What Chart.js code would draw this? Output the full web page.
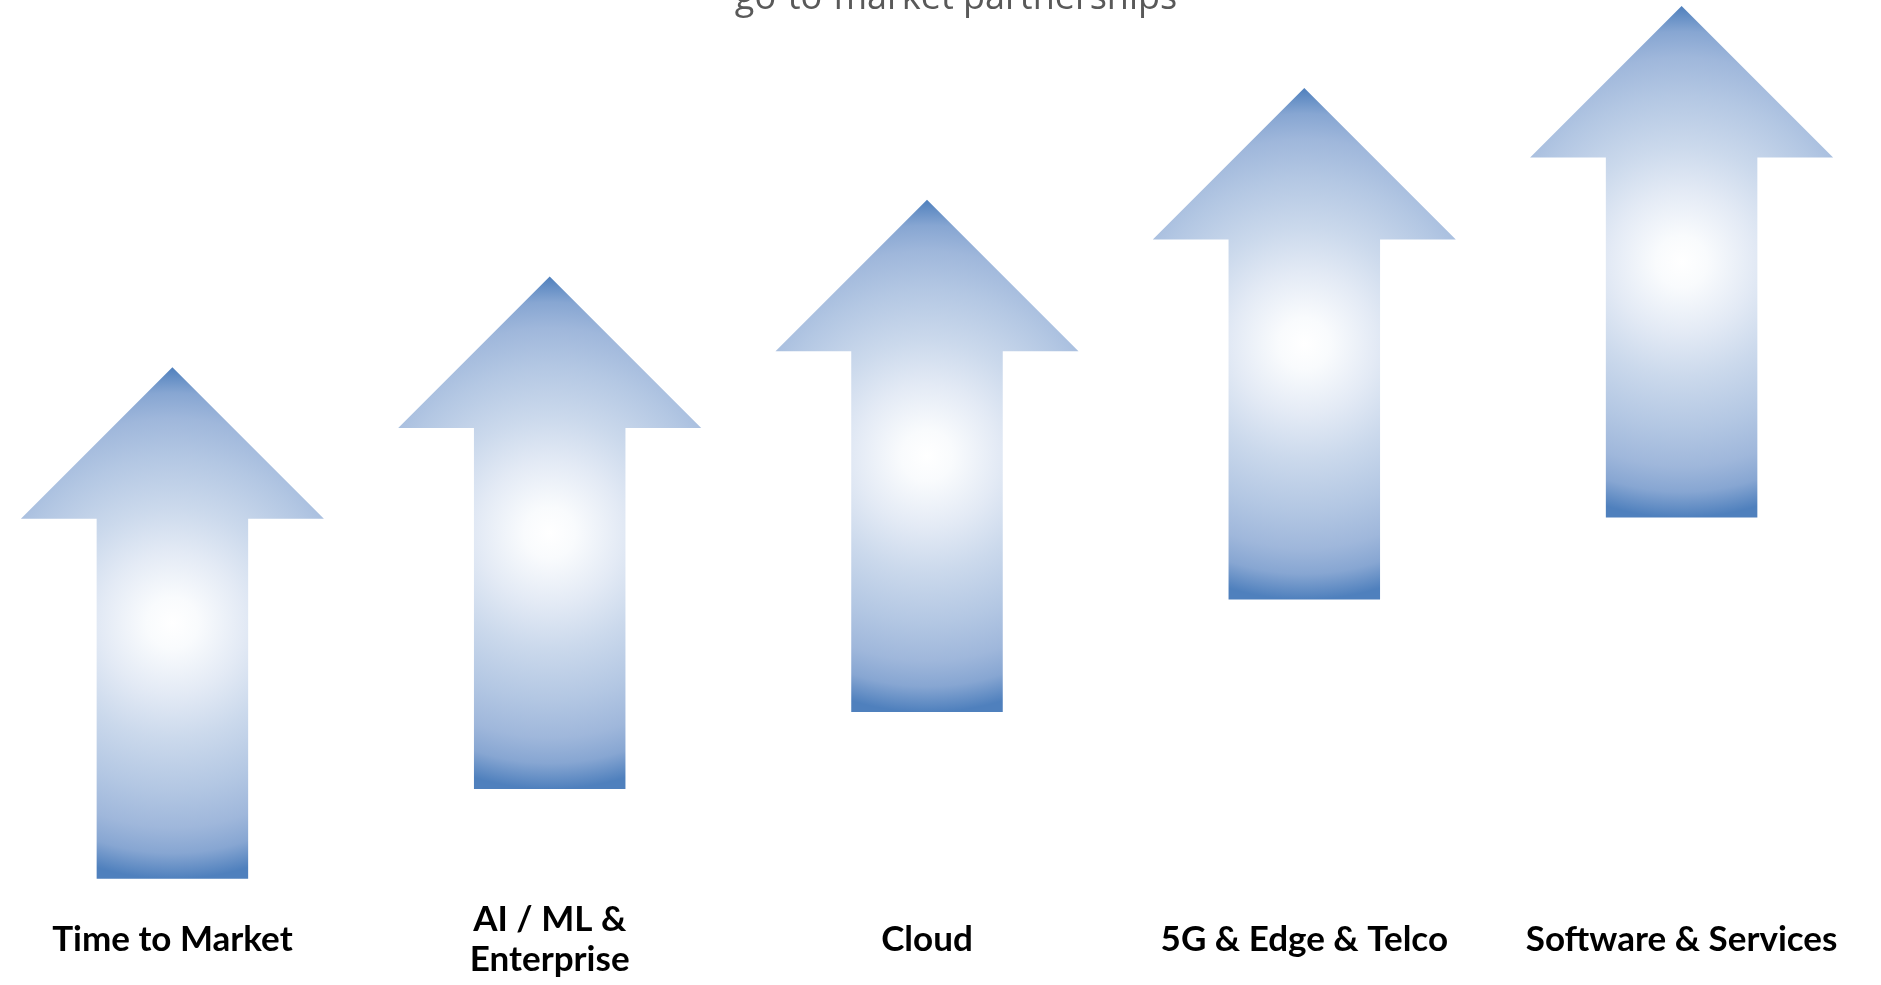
<!DOCTYPE html>
<html>
<head>
<meta charset="utf-8">
<title>go-to-market partnerships</title>
<script src="https://cdn.jsdelivr.net/npm/chart.js@4.4.1/dist/chart.umd.min.js"></script>
<style>
  html, body { margin: 0; padding: 0; background: #ffffff; overflow: hidden; }
  #wrap { position: relative; width: 1881px; height: 1040px; }
</style>
</head>
<body>
<div id="wrap"><canvas id="chart"></canvas></div>
<script>
// Focus areas, left to right
const categories = [
  'Time to Market',
  ['AI / ML &', 'Enterprise'],
  'Cloud',
  '5G & Edge & Telco',
  'Software & Services'
];
// Where each growth arrow starts and where its tip ends (0-100 scale)
const arrowStart = [0, 10.3, 19.1, 32.0, 41.4];
const arrowEnd = [58.6, 69.0, 77.8, 90.6, 100];
const titleText = 'go-to-market partnerships';

// Floating bars: [start, end] per category
const barData = arrowStart.map((s, i) => [s, arrowEnd[i]]);

// Paints every bar as an upward arrow with a radial white-to-blue fill
const arrowPlugin = {
  id: 'arrowBars',
  afterDatasetsDraw(chart) {
    const ctx = chart.ctx;
    chart.getDatasetMeta(0).data.forEach(bar => {
      const p = bar.getProps(['x', 'y', 'base', 'width'], true);
      const top = Math.min(p.y, p.base);
      const bottom = Math.max(p.y, p.base);
      const headHalf = p.width / 2;
      const shaftHalf = p.width / 4;
      const headH = p.width / 2;
      const cy = (top + bottom) / 2;
      const r = (bottom - top) / 2;
      const g = ctx.createRadialGradient(p.x, cy, 0, p.x, cy, r);
      g.addColorStop(0, '#ffffff');
      g.addColorStop(0.1, '#f9fbfd');
      g.addColorStop(0.28, '#e3eaf5');
      g.addColorStop(0.45, '#cbd9ec');
      g.addColorStop(0.65, '#b3c7e3');
      g.addColorStop(0.8, '#9fb7db');
      g.addColorStop(0.9, '#87a6d2');
      g.addColorStop(1, '#4f80bd');
      ctx.save();
      ctx.beginPath();
      ctx.moveTo(p.x, top);
      ctx.lineTo(p.x + headHalf, top + headH);
      ctx.lineTo(p.x + shaftHalf, top + headH);
      ctx.lineTo(p.x + shaftHalf, bottom);
      ctx.lineTo(p.x - shaftHalf, bottom);
      ctx.lineTo(p.x - shaftHalf, top + headH);
      ctx.lineTo(p.x - headHalf, top + headH);
      ctx.closePath();
      ctx.fillStyle = g;
      ctx.fill();
      ctx.restore();
    });
  }
};

// Heading line along the top edge
const headingPlugin = {
  id: 'heading',
  afterDraw(chart) {
    const ctx = chart.ctx;
    ctx.save();
    ctx.font = '36px "Open Sans"';
    ctx.fillStyle = '#595959';
    ctx.textAlign = 'center';
    ctx.textBaseline = 'alphabetic';
    ctx.fillText(titleText, 956, 9);
    ctx.restore();
  }
};

new Chart(document.getElementById('chart'), {
  type: 'bar',
  data: {
    labels: categories,
    datasets: [{
      data: barData,
      backgroundColor: 'rgba(0,0,0,0)',
      borderWidth: 0,
      barThickness: 303,
      clip: false
    }]
  },
  options: {
    responsive: true,
    maintainAspectRatio: false,
    animation: false,
    devicePixelRatio: 1,
    layout: { padding: { top: 6, left: 172.4, right: 199.4, bottom: 0 } },
    plugins: {
      legend: { display: false },
      title: { display: false },
      tooltip: { enabled: false }
    },
    scales: {
      x: {
        offset: false,
        grid: { display: false, drawTicks: false },
        border: { display: false },
        ticks: {
          color: '#000000',
          padding: 41.4,
          crossAlign: 'center',
          maxRotation: 0,
          autoSkip: false,
          font: { family: 'Lato', weight: 'bold', size: 35, lineHeight: 1.12 }
        }
      },
      y: {
        display: false,
        min: 0,
        max: 100
      }
    }
  },
  plugins: [arrowPlugin, headingPlugin]
});
</script>
</body>
</html>
